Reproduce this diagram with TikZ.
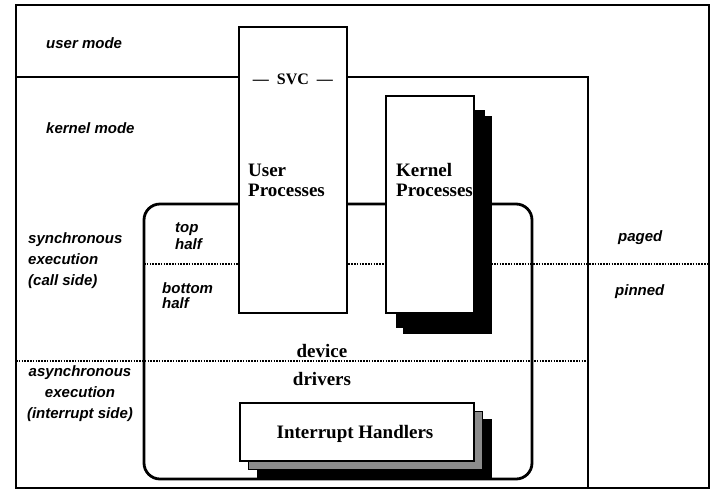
\documentclass[tikz,border=0pt]{standalone}
\usepackage{fontspec}
\setmainfont{Liberation Serif}
\newfontfamily\lblfont{Liberation Sans}
\usetikzlibrary{positioning}

\begin{document}
\begin{tikzpicture}[
  x=1pt, y=-1pt,
  frame/.style={line width=2pt},
  region/.style={line width=2.6pt},
  dots/.style={line width=2.2pt, dash pattern=on 1.6pt off 1.2pt},
  proc/.style={draw, fill=white, line width=1.3pt, inner sep=0pt},
  shade/.style={draw, fill=black, line width=0.6pt, inner sep=0pt},
  hatch/.style={draw, fill=black!45, line width=0.6pt, inner sep=0pt},
  lbl/.style={font=\lblfont\bfseries\itshape\fontsize{15}{21}\selectfont, inner sep=0pt, align=left},
  big/.style={font=\bfseries\fontsize{19}{20}\selectfont, inner sep=0pt, align=left}
]
\useasboundingbox (0,0) rectangle (710,491);

% frames and separators
\draw[frame] (16,5) rectangle (709,488);
\draw[region] (16,77) -| (588,488);
\draw[dots] (144,264) -- (709,264);
\draw[dots] (16,361) -- (588,361);
\draw[region, line width=2.8pt, rounded corners=16pt] (144,204) rectangle (532,479);

% process boxes
\node[shade, minimum width=88pt, minimum height=217pt] (kp2) at (447,224.5) {};
\node[shade, minimum width=88pt, minimum height=217pt] (kp1) at (440,218.5) {};
\node[proc, minimum width=88pt, minimum height=217pt] (kp) at (430,204.5) {};
\node[proc, minimum width=108pt, minimum height=286pt] (up) at (293,170) {};
\node[shade, minimum width=234pt, minimum height=58pt] (ih2) at (374,448) {};
\node[hatch, minimum width=234pt, minimum height=58pt] (ih1) at (365,440) {};
\node[proc, minimum width=234pt, minimum height=58pt] (ih) at (357,432) {};

\node[font=\bfseries\fontsize{16}{17}\selectfont, inner sep=0pt] (svc) at (up.center |- 0,79) {—\enspace SVC\enspace —};
\node[big, anchor=west] (uptxt) at (248,180) {User\\Processes};
\node[big, anchor=west] (kptxt) at (396,180) {Kernel\\Processes};
\node[big, anchor=base] (ihtxt) at (355,438) {Interrupt Handlers};
\node[big, anchor=base] (dev) at (322,357) {device};
\node[big, anchor=base] (drv) at (322,385) {drivers};

% side labels
\node[lbl, anchor=base west] (um) at (46,48) {user mode};
\node[lbl, anchor=base west] (km) at (46,133) {kernel mode};
\node[lbl, anchor=north west] (sync) at (28,232) {synchronous\\execution\\(call side)};
\node[lbl, anchor=north, align=center] (async) at (80,365) {asynchronous\\execution\\(interrupt side)};
\node[lbl, anchor=north west, font=\lblfont\bfseries\itshape\fontsize{15}{17}\selectfont] (top) at (175,223) {top\\half};
\node[lbl, anchor=north west, font=\lblfont\bfseries\itshape\fontsize{15}{15}\selectfont] (bot) at (162,282) {bottom\\half};
\node[lbl, anchor=base west] (paged) at (618,241) {paged};
\node[lbl, anchor=base west] (pinned) at (615,295) {pinned};
\end{tikzpicture}
\end{document}
